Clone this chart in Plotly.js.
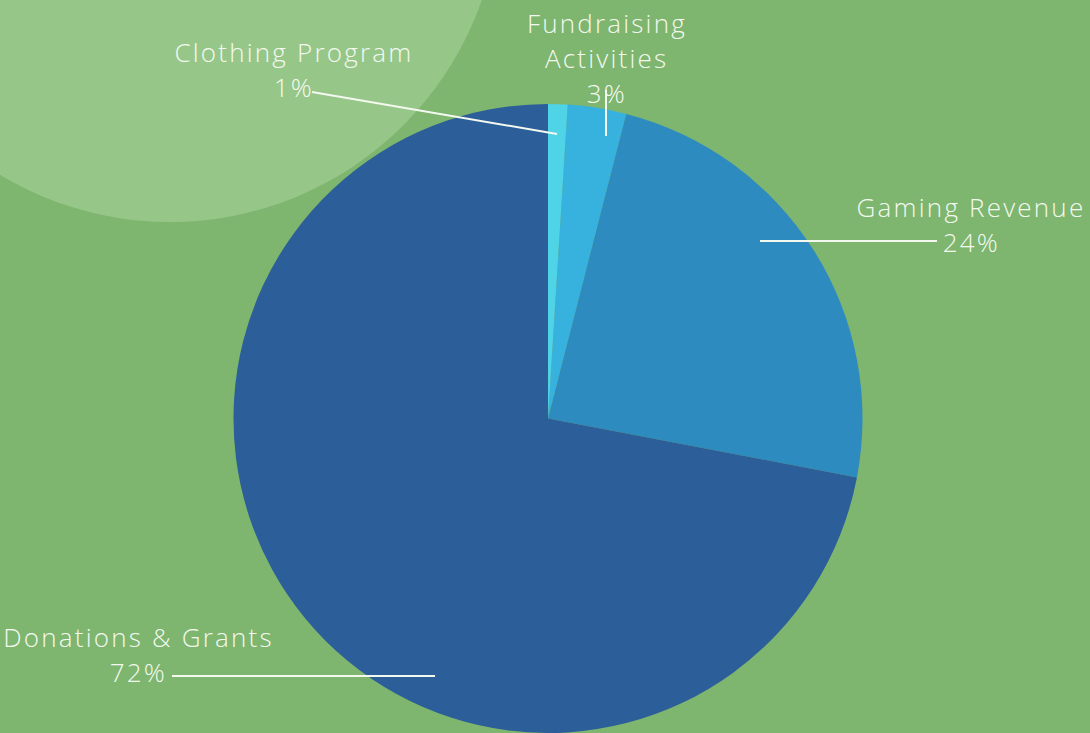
<!DOCTYPE html>
<html>
<head>
<meta charset="utf-8">
<script src="https://cdn.plot.ly/plotly-3.0.1.min.js"></script>
<style>
html,body{margin:0;padding:0;background:#7eb56f;}
#chart{width:1090px;height:733px;}
#chart .annotation-text{letter-spacing:2.2px;}
</style>
</head>
<body>
<div id="chart"></div>
<script>
const categories = ["Clothing Program", "Fundraising Activities", "Gaming Revenue", "Donations & Grants"];
const values = [1, 3, 24, 72];
const sliceColors = ["#4fd3e6", "#37b2de", "#2e8bc0", "#2c5e99"];
const labelLines = [["Clothing Program"], ["Fundraising", "Activities"], ["Gaming Revenue"], ["Donations & Grants"]];

const W = 1090, H = 733;
const px = x => x / W;
const py = y => 1 - y / H;

// label layout (pixel positions of label centres and leader lines)
const labelPos = [
  {x: 294, ys: [52, 87], line: [312, 92, 557, 134]},
  {x: 607, ys: [23, 58, 93], line: [606, 90, 606, 136]},
  {x: 971, ys: [207, 242], line: [760, 241, 937, 241]},
  {x: 138, ys: [637, 672], line: [172, 676, 435, 676]}
];

const total = values.reduce((a, b) => a + b, 0);
const textColor = "#f3f9ef";
const fontFam = "'Open Sans', 'DejaVu Sans', sans-serif";

const annotations = [];
const shapes = [
  {type: "circle", xref: "paper", yref: "paper",
   x0: px(170 - 330), x1: px(170 + 330), y0: py(-108 + 330), y1: py(-108 - 330),
   fillcolor: "#97c689", line: {width: 0}, layer: "below"}
];

categories.forEach((c, i) => {
  const lines = labelLines[i].concat([Math.round(values[i] / total * 100) + "%"]);
  const p = labelPos[i];
  lines.forEach((t, j) => {
    annotations.push({text: t, x: px(p.x), y: py(p.ys[j]), xref: "paper", yref: "paper",
      xanchor: "center", yanchor: "middle", showarrow: false,
      font: {family: fontFam, size: 26, weight: 300, color: textColor}});
  });
  shapes.push({type: "line", xref: "paper", yref: "paper",
    x0: px(p.line[0]), y0: py(p.line[1]), x1: px(p.line[2]), y1: py(p.line[3]),
    line: {color: textColor, width: 2}, layer: "above"});
});

const data = [{
  type: "pie",
  labels: categories,
  values: values,
  sort: false,
  direction: "clockwise",
  rotation: 0,
  marker: {colors: sliceColors, line: {width: 0}},
  textinfo: "none",
  hoverinfo: "label+percent",
  domain: {x: [px(233), px(863)], y: [0, py(104)]},
  showlegend: false
}];

const layout = {
  width: W, height: H,
  margin: {l: 0, r: 0, t: 0, b: 0},
  paper_bgcolor: "#7eb56f",
  plot_bgcolor: "#7eb56f",
  showlegend: false,
  shapes: shapes,
  annotations: annotations
};

Plotly.newPlot("chart", data, layout, {displayModeBar: false, staticPlot: true});
</script>
</body>
</html>
